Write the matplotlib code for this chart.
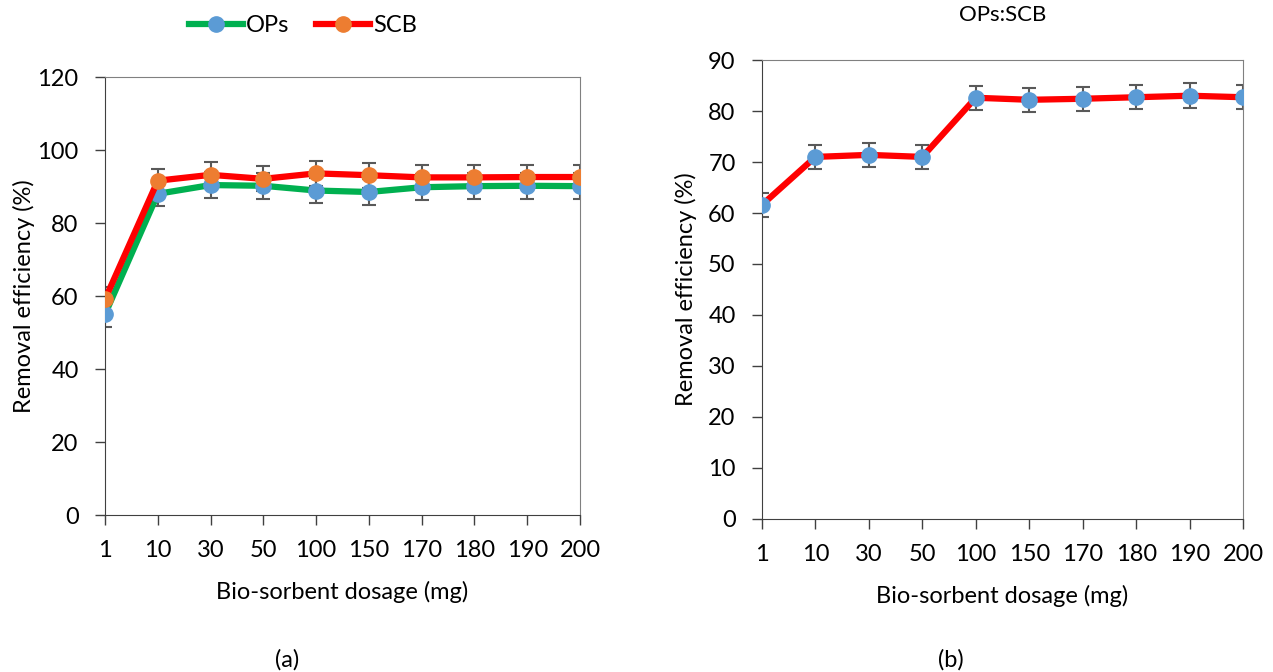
import matplotlib.pyplot as plt
import numpy as np

plt.rcParams['font.family'] = ['Lato', 'DejaVu Sans']

dosage = ["1", "10", "30", "50", "100", "150", "170", "180", "190", "200"]

# panel (a)
ops = [55.0, 88.0, 90.4, 90.2, 88.9, 88.5, 89.8, 90.1, 90.2, 90.1]
ops_err = [3.5, 3.3, 3.5, 3.5, 3.5, 3.5, 3.5, 3.5, 3.5, 3.5]
scb = [59.1, 91.6, 93.2, 92.1, 93.6, 93.1, 92.5, 92.5, 92.6, 92.6]
scb_err = [3.4, 3.3, 3.4, 3.4, 3.4, 3.4, 3.4, 3.4, 3.4, 3.4]

# panel (b)
mix = [61.6, 71.0, 71.4, 71.0, 82.6, 82.2, 82.4, 82.7, 83.0, 82.7]
mix_err = [2.4, 2.4, 2.4, 2.4, 2.4, 2.4, 2.4, 2.4, 2.4, 2.4]

x = np.arange(len(dosage))
fs = 17

fig = plt.figure(figsize=(12.73, 6.72), dpi=100)
ax1 = fig.add_axes([0.0825, 0.2336, 0.3731, 0.6518])
ax2 = fig.add_axes([0.5986, 0.2277, 0.3778, 0.6830])


def draw(ax, y, err, line_col, mk_col, label):
    ax.errorbar(x, y, yerr=err, fmt='none', ecolor='#595959', elinewidth=1.5,
                capsize=5, capthick=1.5, zorder=2)
    h, = ax.plot(x, y, '-o', color=line_col, lw=4.5, marker='o', ms=11,
                 mfc=mk_col, mec=mk_col, label=label, zorder=3)
    return h


h1 = draw(ax1, ops, ops_err, '#00B050', '#5B9BD5', 'OPs')
h2 = draw(ax1, scb, scb_err, '#FF0000', '#ED7D31', 'SCB')
draw(ax2, mix, mix_err, '#FF0000', '#5B9BD5', 'OPs:SCB')

ax1.set_ylim(0, 120)
ax1.set_yticks(range(0, 121, 20))
ax2.set_ylim(0, 90)
ax2.set_yticks(range(0, 91, 10))

for ax in (ax1, ax2):
    ax.set_xlim(0, len(dosage) - 1)
    ax.set_xticks(x)
    ax.set_xticklabels(dosage)
    ax.tick_params(labelsize=fs, direction='out', length=7, width=1,
                   color='#404040')
    ax.tick_params(axis='y', pad=12)
    ax.tick_params(axis='x', pad=11)
    ax.set_xlabel("Bio-sorbent dosage (mg)", fontsize=fs, labelpad=14)
    for s in ('left', 'bottom'):
        ax.spines[s].set_color('#404040')
    for s in ('top', 'right'):
        ax.spines[s].set_color('#808080')

ax1.set_ylabel("Removal efficiency (%)", fontsize=fs, labelpad=2)
ax2.set_ylabel("Removal efficiency (%)", fontsize=fs, labelpad=8)
ax2.set_title("OPs:SCB", fontsize=fs - 1, pad=28)

fig.legend(handles=[h1, h2], loc='center', bbox_to_anchor=(0.238, 0.962),
           ncol=2, frameon=False, fontsize=fs, handlelength=2.3,
           handletextpad=0.15, columnspacing=1.1)

fig.text(0.2255, 0.002, "(a)", ha='center', va='bottom', fontsize=fs)
fig.text(0.747, 0.002, "(b)", ha='center', va='bottom', fontsize=fs)

fig.savefig("out.png", dpi=100)
